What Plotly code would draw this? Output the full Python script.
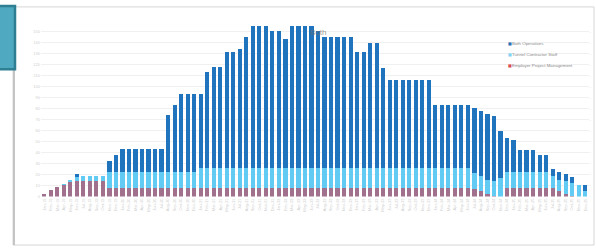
import plotly.graph_objects as go
import pandas as pd

W, H = 596, 251

months = [d.strftime("%b-%y") for d in pd.date_range("2019-01-01", periods=84, freq="MS")]

employer = [2.7, 5.9, 8.5, 11.0, 13.0, 14.1, 14.1, 14.1, 14.1, 14.1,
            8.1, 8.1, 8.1, 8.1, 8.1, 8.1, 8.1, 8.1, 8.1, 8.1,
            8.1, 8.1, 8.1, 8.1, 8.1, 8.1, 8.1, 8.1, 8.1, 8.1,
            8.1, 8.1, 8.1, 8.1, 8.1, 8.1, 8.1, 8.1, 8.1, 8.1,
            8.1, 8.1, 8.1, 8.1, 8.1, 8.1, 8.1, 8.1, 8.1, 8.1,
            8.1, 8.1, 8.1, 8.1, 8.1, 8.1, 8.1, 8.1, 8.1, 8.1,
            8.1, 8.1, 8.1, 8.1, 8.1, 8.1, 6.6, 5.1, 2.7, 0.5,
            0.0, 8.1, 8.1, 8.1, 8.1, 8.1, 8.1, 8.1, 7.5, 5.1,
            2.7, 0.5, 0.0, 0.0]

contractor = [0.0, 0.0, 0.2, 0.7, 1.9, 4.2, 4.4, 4.4, 4.4, 4.4,
              14.2, 14.2, 14.2, 14.2, 14.2, 14.2, 14.2, 14.2, 14.2, 14.4,
              14.4, 14.4, 14.4, 14.4, 17.6, 17.6, 17.6, 17.6, 17.6, 17.6,
              17.6, 17.6, 17.6, 17.6, 17.6, 17.6, 17.6, 17.6, 17.6, 17.6,
              17.6, 17.6, 17.6, 17.6, 17.6, 17.6, 17.6, 17.6, 17.6, 17.6,
              17.6, 17.6, 17.6, 17.6, 17.6, 17.6, 17.6, 17.6, 17.6, 17.6,
              17.6, 17.6, 17.6, 17.6, 17.6, 17.6, 15.0, 13.6, 12.9, 13.6,
              17.1, 14.4, 14.4, 14.4, 14.4, 14.4, 14.4, 14.4, 11.2, 10.5,
              11.4, 12.1, 10.4, 5.4]

operatives = [0.0, 0.0, 0.0, 0.0, 0.0, 2.2, 0.0, 0.0, 0.0, 0.0,
              10.4, 15.8, 20.9, 20.9, 20.9, 20.9, 20.9, 20.9, 20.9, 51.7,
              61.3, 71.2, 71.2, 71.2, 68.0, 88.1, 92.1, 92.1, 105.6, 105.6,
              108.6, 119.6, 129.5, 129.5, 129.5, 125.0, 125.0, 118.2, 129.5, 129.5,
              129.5, 129.5, 125.0, 119.6, 119.6, 119.6, 119.6, 119.6, 105.6, 105.6,
              114.6, 114.6, 91.4, 80.6, 80.6, 80.6, 80.6, 80.6, 80.6, 80.6,
              58.1, 58.1, 58.1, 58.1, 58.1, 58.1, 59.2, 59.1, 60.1, 59.5,
              42.6, 30.7, 29.1, 20.1, 20.1, 20.1, 15.8, 15.8, 6.5, 6.9,
              6.6, 5.4, 0.0, 5.0]

series_names = ["Both Operatives", "Tunnel Contractor Staff", "Employer Project Management"]
bar_colors = ["#1F74BD", "#62CBF3", "#A1708D"]
legend_marker_colors = ["#2C6FB8", "#7FD3F5", "#DB4B55"]
y_ticks = [0, 10, 20, 30, 40, 50, 60, 70, 80, 90, 100, 110, 120, 130, 140, 150]

fig = go.Figure()
for name, vals, col in [(series_names[2], employer, bar_colors[2]),
                        (series_names[1], contractor, bar_colors[1]),
                        (series_names[0], operatives, bar_colors[0])]:
    fig.add_trace(go.Bar(x=months, y=vals, name=name, marker=dict(color=col, line=dict(width=0)),
                         showlegend=False))
# helper trace so the secondary (right) axis is drawn
fig.add_trace(go.Scatter(x=months[:1], y=[None], yaxis="y2", mode="none",
                         showlegend=False, hoverinfo="skip"))

def px(x):
    return x / W

def py(y):
    return 1 - y / H

shapes = [
    dict(type="rect", xref="paper", yref="paper", x0=px(13), x1=px(594), y0=py(248), y1=py(7),
         line=dict(color="#d6d6d6", width=1), fillcolor="white", layer="below"),
    dict(type="line", xref="paper", yref="paper", x0=px(14), x1=px(14), y0=py(248), y1=py(7),
         line=dict(color="#c4c4c4", width=2), layer="below"),
    dict(type="rect", xref="paper", yref="paper", x0=px(-2), x1=px(15), y0=py(70), y1=py(6),
         line=dict(color="#2F7F93", width=2.5), fillcolor="#4FA9C1", layer="above"),
]

annotations = [
    dict(text="Both", xref="paper", yref="paper", x=px(318), y=py(33), showarrow=False,
         font=dict(size=8, color="rgba(110,110,110,0.75)", family="Liberation Sans"),
         xanchor="center", yanchor="middle"),
]
leg_y = [44.5, 55.5, 66.5]
for i, name in enumerate(series_names):
    annotations.append(dict(text="■", xref="paper", yref="paper", x=px(506), y=py(leg_y[i]),
                            showarrow=False, xanchor="left", yanchor="middle",
                            font=dict(size=4, color=legend_marker_colors[i], family="DejaVu Sans")))
    annotations.append(dict(text=name, xref="paper", yref="paper", x=px(510), y=py(leg_y[i]),
                            showarrow=False, xanchor="left", yanchor="middle",
                            font=dict(size=4.4, color="#8a8a8a", family="Liberation Sans")))

ydomain = [py(199), py(199 - 158 * 1.111)]
fig.update_layout(
    width=W, height=H,
    margin=dict(l=0, r=0, t=0, b=0),
    paper_bgcolor="white", plot_bgcolor="white",
    barmode="stack", bargap=0.36,
    showlegend=False,
    shapes=shapes, annotations=annotations,
    xaxis=dict(domain=[px(41), px(588.5)], type="category", tickangle=-90,
               tickfont=dict(size=4, color="#d0d0d0", family="Liberation Sans"),
               showgrid=False, showline=False, zeroline=False, ticks=""),
    yaxis=dict(domain=ydomain, range=[0, 158],
               tickvals=y_ticks, ticktext=[str(v) for v in y_ticks],
               tickfont=dict(size=4, color="#d0d0d0", family="Liberation Sans"),
               showgrid=True, gridcolor="#f0f0f0", gridwidth=1,
               zeroline=False, showline=False, ticks=""),
    yaxis2=dict(overlaying="y", side="right", range=[0, 158],
                tickvals=y_ticks, ticktext=["·"] * len(y_ticks),
                tickfont=dict(size=5, color="#c8c8c8", family="Liberation Sans"),
                showgrid=False, zeroline=False, showline=False, ticks=""),
)

fig.write_html("out.html", config={"displayModeBar": False, "staticPlot": True},
               post_script="document.body.style.margin='0';document.body.style.overflow='hidden';")
